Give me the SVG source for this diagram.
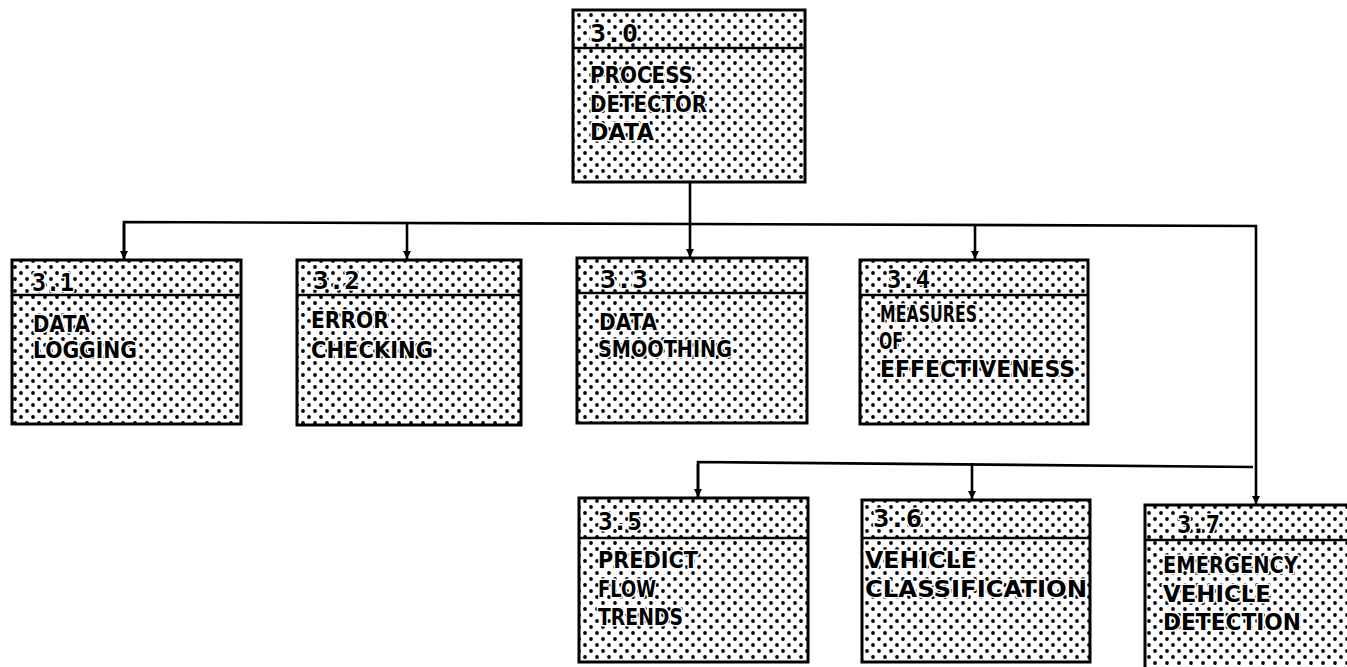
<svg xmlns="http://www.w3.org/2000/svg" width="1347" height="667" viewBox="0 0 1347 667">
<defs>
<pattern id="dots" width="12" height="12" patternUnits="userSpaceOnUse">
<rect width="12" height="12" fill="#ffffff"/>
<circle cx="3" cy="3" r="1.9" fill="#000"/>
<circle cx="9" cy="9" r="1.9" fill="#000"/>
</pattern>
<marker id="arr" markerUnits="userSpaceOnUse" markerWidth="9" markerHeight="9" refX="8" refY="4.5" orient="auto">
<path d="M0,0.5 L8,4.5 L0,8.5 z" fill="#000"/>
</marker>
<clipPath id="page"><rect width="1347" height="667"/></clipPath>
</defs>
<style>
.box{fill:url(#dots);stroke:#000;stroke-width:3}
.div{stroke:#000;stroke-width:2.5}
.lbl{font-family:"Liberation Sans Narrow","DejaVu Sans Condensed","Liberation Sans",sans-serif;font-weight:bold;font-size:23px;fill:#000;stroke:#fff;stroke-width:3;paint-order:stroke;stroke-linejoin:round}
.num{font-family:"DejaVu Sans Mono","Liberation Mono",monospace;font-weight:bold;font-size:24px;fill:#000;stroke:#fff;stroke-width:3;paint-order:stroke;stroke-linejoin:round}
.con{fill:none;stroke:#000;stroke-width:2.6}
</style>
<rect width="1347" height="667" fill="#ffffff"/>

<g id="connectors">
<path class="con" d="M690,182 L690,257" marker-end="url(#arr)"/>
<path class="con" d="M124,260 L124,222 L1256,226 L1256,504" marker-end="url(#arr)"/>
<path class="con" d="M124,224 L124,259" marker-end="url(#arr)"/>
<path class="con" d="M407,223 L407,259" marker-end="url(#arr)"/>
<path class="con" d="M975,224 L975,259" marker-end="url(#arr)"/>
<path class="con" d="M698,497 L698,462 L1253,467"/>
<path class="con" d="M698,464 L698,497" marker-end="url(#arr)"/>
<path class="con" d="M972,463 L972,499" marker-end="url(#arr)"/>
</g>

<g id="n30">
<rect class="box" x="573" y="10" width="232" height="172"/>
<line class="div" x1="573" y1="48" x2="805" y2="48"/>
<text class="num" x="590" y="42" textLength="48" lengthAdjust="spacingAndGlyphs">3.0</text>
<text class="lbl" x="590" y="83" textLength="103" lengthAdjust="spacingAndGlyphs">PROCESS</text>
<text class="lbl" x="590" y="112" textLength="117" lengthAdjust="spacingAndGlyphs">DETECTOR</text>
<text class="lbl" x="590" y="140" textLength="64" lengthAdjust="spacingAndGlyphs">DATA</text>
</g>

<g id="n31">
<rect class="box" x="12" y="260" width="229" height="164"/>
<line class="div" x1="12" y1="295" x2="241" y2="295"/>
<text class="num" x="32" y="291" textLength="42" lengthAdjust="spacingAndGlyphs">3.1</text>
<text class="lbl" x="33" y="332" textLength="57" lengthAdjust="spacingAndGlyphs">DATA</text>
<text class="lbl" x="33" y="358" textLength="104" lengthAdjust="spacingAndGlyphs">LOGGING</text>
</g>

<g id="n32">
<rect class="box" x="297" y="260" width="224" height="165"/>
<line class="div" x1="297" y1="295" x2="521" y2="295"/>
<text class="num" x="313" y="289" textLength="47" lengthAdjust="spacingAndGlyphs">3.2</text>
<text class="lbl" x="311" y="328" textLength="78" lengthAdjust="spacingAndGlyphs">ERROR</text>
<text class="lbl" x="311" y="358" textLength="122" lengthAdjust="spacingAndGlyphs">CHECKING</text>
</g>

<g id="n33">
<rect class="box" x="577" y="258" width="230" height="165"/>
<line class="div" x1="577" y1="293" x2="807" y2="293"/>
<text class="num" x="600" y="288" textLength="48" lengthAdjust="spacingAndGlyphs">3.3</text>
<text class="lbl" x="599" y="330" textLength="58" lengthAdjust="spacingAndGlyphs">DATA</text>
<text class="lbl" x="598" y="357" textLength="134" lengthAdjust="spacingAndGlyphs">SMOOTHING</text>
</g>

<g id="n34">
<rect class="box" x="860" y="260" width="228" height="164"/>
<line class="div" x1="860" y1="295" x2="1088" y2="295"/>
<text class="num" x="887" y="288" textLength="43" lengthAdjust="spacingAndGlyphs">3.4</text>
<text class="lbl" x="880" y="322" textLength="97" lengthAdjust="spacingAndGlyphs">MEASURES</text>
<text class="lbl" x="879" y="349" textLength="24" lengthAdjust="spacingAndGlyphs">OF</text>
<text class="lbl" x="880" y="377" textLength="195" lengthAdjust="spacingAndGlyphs">EFFECTIVENESS</text>
</g>

<g id="n35">
<rect class="box" x="579" y="498" width="229" height="164"/>
<line class="div" x1="579" y1="538" x2="808" y2="538"/>
<text class="num" x="598" y="530" textLength="44" lengthAdjust="spacingAndGlyphs">3.5</text>
<text class="lbl" x="598" y="568" textLength="100" lengthAdjust="spacingAndGlyphs">PREDICT</text>
<text class="lbl" x="598" y="597" textLength="58" lengthAdjust="spacingAndGlyphs">FLOW</text>
<text class="lbl" x="598" y="625" textLength="85" lengthAdjust="spacingAndGlyphs">TRENDS</text>
</g>

<g id="n36">
<rect class="box" x="862" y="500" width="228" height="162"/>
<line class="div" x1="862" y1="538" x2="1090" y2="538"/>
<text class="num" x="873" y="527" textLength="49" lengthAdjust="spacingAndGlyphs">3.6</text>
<text class="lbl" x="865" y="568" textLength="112" lengthAdjust="spacingAndGlyphs">VEHICLE</text>
<text class="lbl" x="865" y="597" textLength="222" lengthAdjust="spacingAndGlyphs">CLASSIFICATION</text>
</g>

<g id="n37" clip-path="url(#page)">
<rect class="box" x="1145" y="505" width="230" height="180"/>
<line class="div" x1="1145" y1="540" x2="1375" y2="540"/>
<text class="num" x="1177" y="533" textLength="43" lengthAdjust="spacingAndGlyphs">3.7</text>
<text class="lbl" x="1163" y="573" textLength="135" lengthAdjust="spacingAndGlyphs">EMERGENCY</text>
<text class="lbl" x="1163" y="602" textLength="108" lengthAdjust="spacingAndGlyphs">VEHICLE</text>
<text class="lbl" x="1163" y="630" textLength="138" lengthAdjust="spacingAndGlyphs">DETECTION</text>
</g>
</svg>
